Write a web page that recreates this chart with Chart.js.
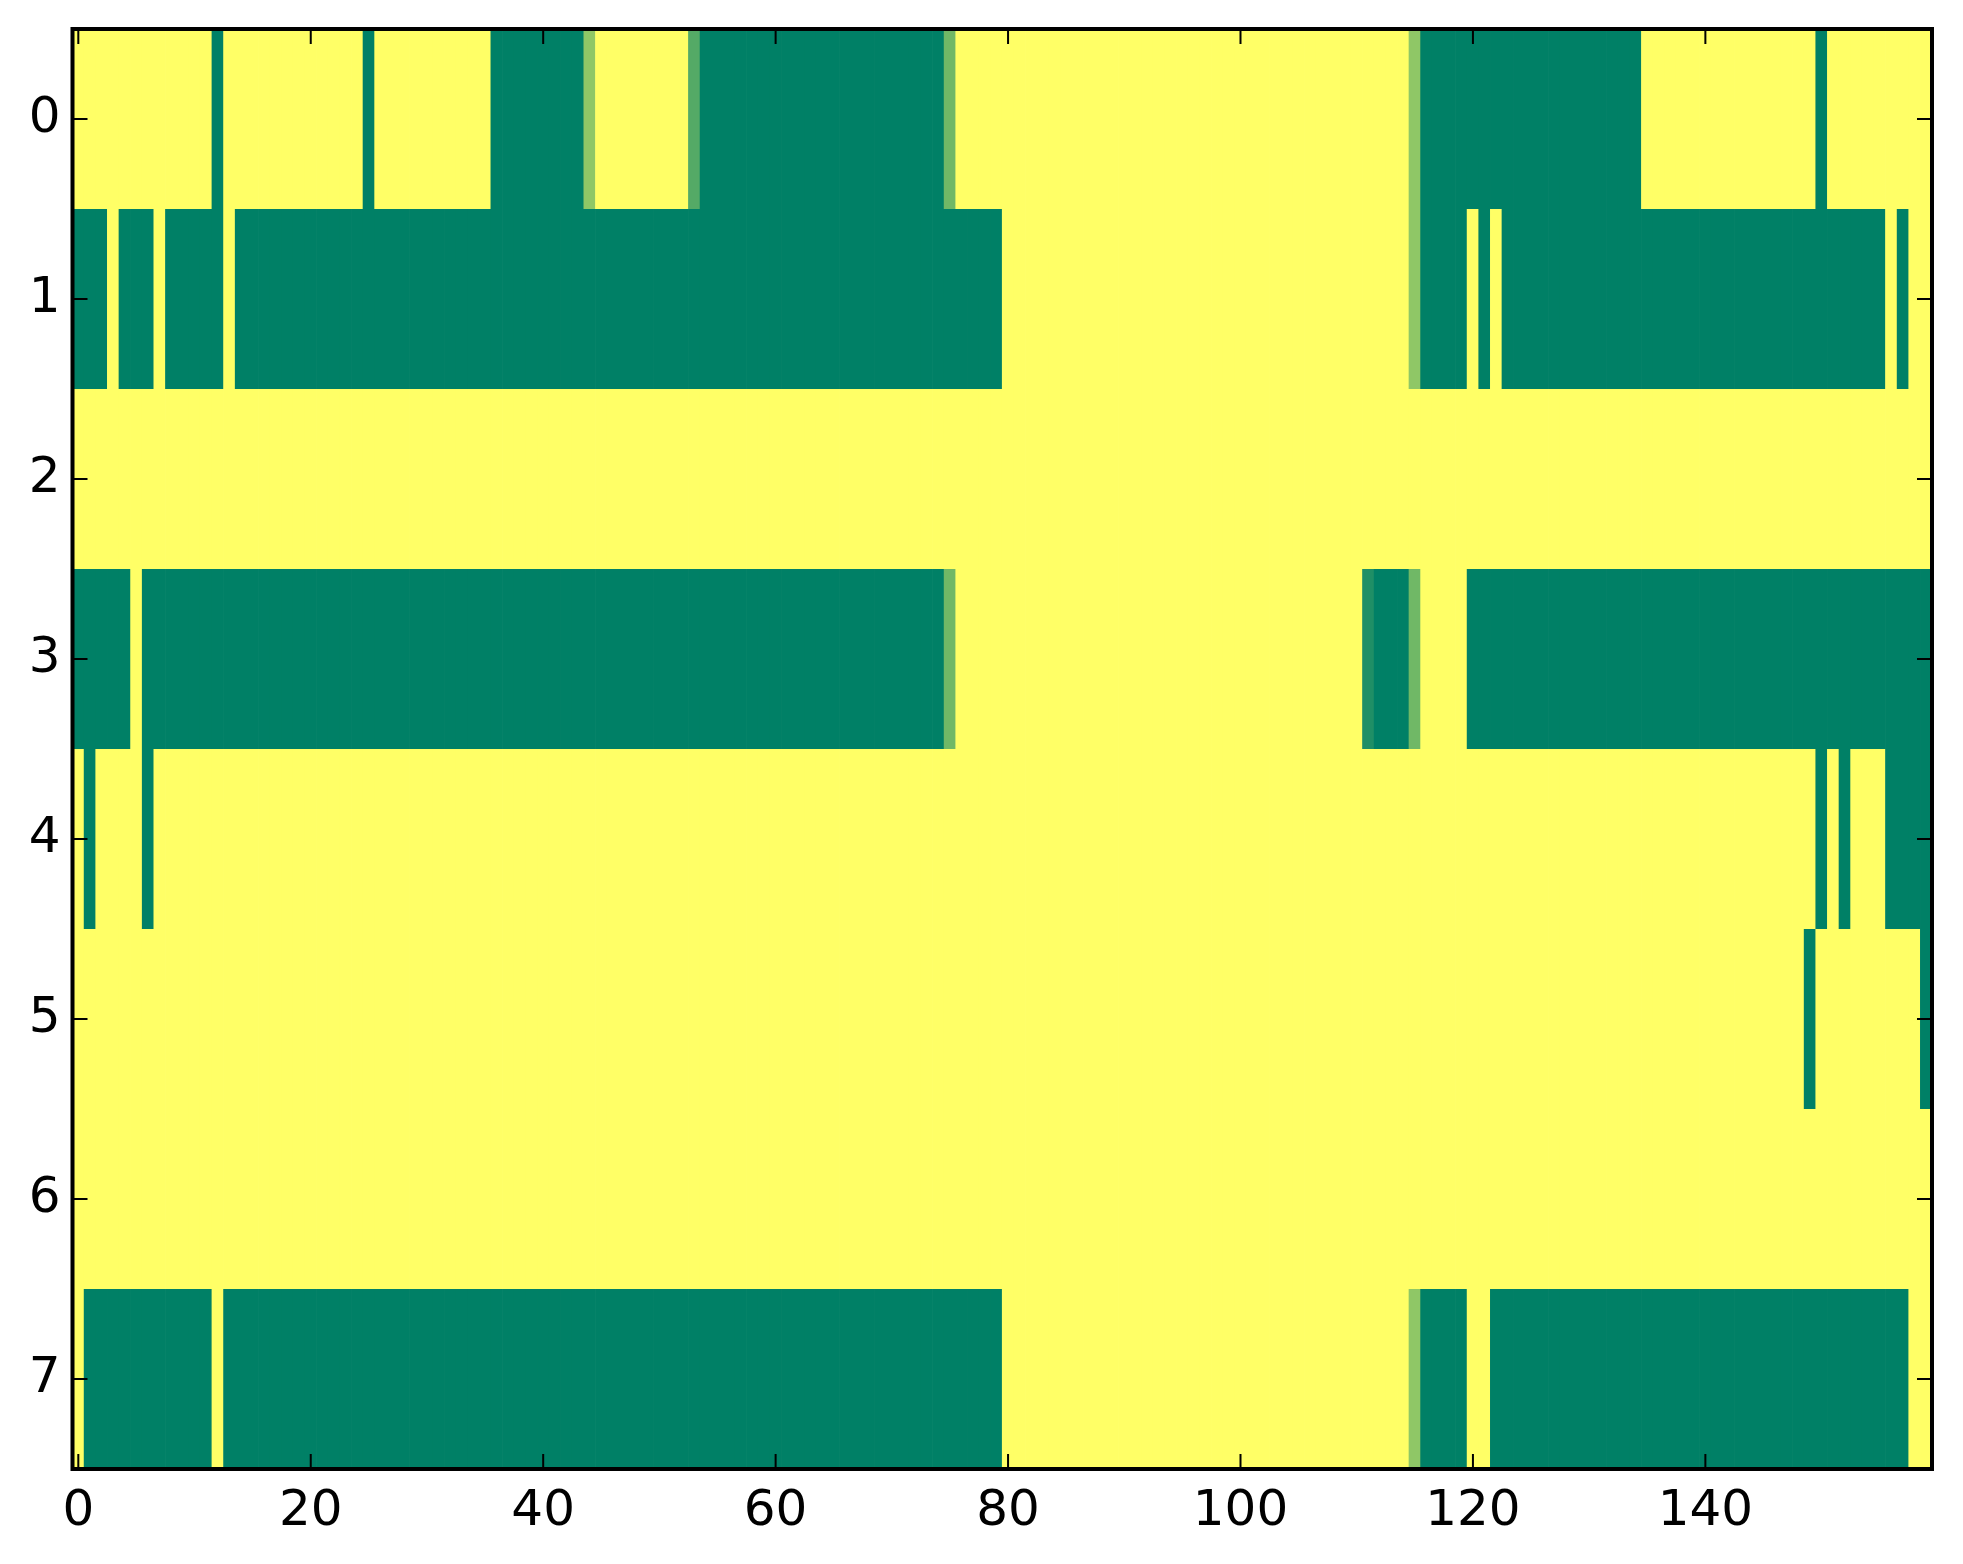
<!DOCTYPE html>
<html>
<head>
<meta charset="utf-8">
<script src="https://cdn.jsdelivr.net/npm/chart.js@4.4.1/dist/chart.umd.min.js"></script>
<style>
html,body{margin:0;padding:0;background:#fff;}
#wrap{width:1963px;height:1564px;position:relative;}
</style>
</head>
<body>
<div id="wrap"><canvas id="c" width="1963" height="1564"></canvas></div>
<script>
// ---- data ----
const rowLabels = ['0','1','2','3','4','5','6','7'];
const xTickLabels = [0,20,40,60,80,100,120,140];
const yTickLabels = [0,1,2,3,4,5,6,7];
const columns = Array.from({length:160},(_,i)=>String(i));

const row0 = [
1,1,1,1,1,1,1,1,1,1,1,1,0,1,1,1,1,1,1,1,
1,1,1,1,1,0,1,1,1,1,1,1,1,1,1,1,0,0,0,0,
0,0,0,0,0.56,1,1,1,1,1,1,1,1,0.33,0,0,0,0,0,0,
0,0,0,0,0,0,0,0,0,0,0,0,0,0,0,0.44,1,1,1,1,
1,1,1,1,1,1,1,1,1,1,1,1,1,1,1,1,1,1,1,1,
1,1,1,1,1,1,1,1,1,1,1,1,1,1,1,0.56,0,0,0,0,
0,0,0,0,0,0,0,0,0,0,0,0,0,0,0,1,1,1,1,1,
1,1,1,1,1,1,1,1,1,1,0,1,1,1,1,1,1,1,1,1];
const row1 = [
0,0,0,1,0,0,0,1,0,0,0,0,0,1,0,0,0,0,0,0,
0,0,0,0,0,0,0,0,0,0,0,0,0,0,0,0,0,0,0,0,
0,0,0,0,0,0,0,0,0,0,0,0,0,0,0,0,0,0,0,0,
0,0,0,0,0,0,0,0,0,0,0,0,0,0,0,0,0,0,0,0,
1,1,1,1,1,1,1,1,1,1,1,1,1,1,1,1,1,1,1,1,
1,1,1,1,1,1,1,1,1,1,1,1,1,1,1,0.56,0,0,0,0,
1,0,1,0,0,0,0,0,0,0,0,0,0,0,0,0,0,0,0,0,
0,0,0,0,0,0,0,0,0,0,0,0,0,0,0,0,1,0,1,1];
const row2 = [
1,1,1,1,1,1,1,1,1,1,1,1,1,1,1,1,1,1,1,1,
1,1,1,1,1,1,1,1,1,1,1,1,1,1,1,1,1,1,1,1,
1,1,1,1,1,1,1,1,1,1,1,1,1,1,1,1,1,1,1,1,
1,1,1,1,1,1,1,1,1,1,1,1,1,1,1,1,1,1,1,1,
1,1,1,1,1,1,1,1,1,1,1,1,1,1,1,1,1,1,1,1,
1,1,1,1,1,1,1,1,1,1,1,1,1,1,1,1,1,1,1,1,
1,1,1,1,1,1,1,1,1,1,1,1,1,1,1,1,1,1,1,1,
1,1,1,1,1,1,1,1,1,1,1,1,1,1,1,1,1,1,1,1];
const row3 = [
0,0,0,0,0,1,0,0,0,0,0,0,0,0,0,0,0,0,0,0,
0,0,0,0,0,0,0,0,0,0,0,0,0,0,0,0,0,0,0,0,
0,0,0,0,0,0,0,0,0,0,0,0,0,0,0,0,0,0,0,0,
0,0,0,0,0,0,0,0,0,0,0,0,0,0,0,0.44,1,1,1,1,
1,1,1,1,1,1,1,1,1,1,1,1,1,1,1,1,1,1,1,1,
1,1,1,1,1,1,1,1,1,1,1,0.12,0,0,0,0.44,1,1,1,1,
0,0,0,0,0,0,0,0,0,0,0,0,0,0,0,0,0,0,0,0,
0,0,0,0,0,0,0,0,0,0,0,0,0,0,0,0,0,0,0,0];
const row4 = [
1,0,1,1,1,1,0,1,1,1,1,1,1,1,1,1,1,1,1,1,
1,1,1,1,1,1,1,1,1,1,1,1,1,1,1,1,1,1,1,1,
1,1,1,1,1,1,1,1,1,1,1,1,1,1,1,1,1,1,1,1,
1,1,1,1,1,1,1,1,1,1,1,1,1,1,1,1,1,1,1,1,
1,1,1,1,1,1,1,1,1,1,1,1,1,1,1,1,1,1,1,1,
1,1,1,1,1,1,1,1,1,1,1,1,1,1,1,1,1,1,1,1,
1,1,1,1,1,1,1,1,1,1,1,1,1,1,1,1,1,1,1,1,
1,1,1,1,1,1,1,1,1,1,0,1,0,1,1,1,0,0,0,0];
const row5 = [
1,1,1,1,1,1,1,1,1,1,1,1,1,1,1,1,1,1,1,1,
1,1,1,1,1,1,1,1,1,1,1,1,1,1,1,1,1,1,1,1,
1,1,1,1,1,1,1,1,1,1,1,1,1,1,1,1,1,1,1,1,
1,1,1,1,1,1,1,1,1,1,1,1,1,1,1,1,1,1,1,1,
1,1,1,1,1,1,1,1,1,1,1,1,1,1,1,1,1,1,1,1,
1,1,1,1,1,1,1,1,1,1,1,1,1,1,1,1,1,1,1,1,
1,1,1,1,1,1,1,1,1,1,1,1,1,1,1,1,1,1,1,1,
1,1,1,1,1,1,1,1,1,0,1,1,1,1,1,1,1,1,1,0];
const row6 = [
1,1,1,1,1,1,1,1,1,1,1,1,1,1,1,1,1,1,1,1,
1,1,1,1,1,1,1,1,1,1,1,1,1,1,1,1,1,1,1,1,
1,1,1,1,1,1,1,1,1,1,1,1,1,1,1,1,1,1,1,1,
1,1,1,1,1,1,1,1,1,1,1,1,1,1,1,1,1,1,1,1,
1,1,1,1,1,1,1,1,1,1,1,1,1,1,1,1,1,1,1,1,
1,1,1,1,1,1,1,1,1,1,1,1,1,1,1,1,1,1,1,1,
1,1,1,1,1,1,1,1,1,1,1,1,1,1,1,1,1,1,1,1,
1,1,1,1,1,1,1,1,1,1,1,1,1,1,1,1,1,1,1,1];
const row7 = [
1,0,0,0,0,0,0,0,0,0,0,0,1,0,0,0,0,0,0,0,
0,0,0,0,0,0,0,0,0,0,0,0,0,0,0,0,0,0,0,0,
0,0,0,0,0,0,0,0,0,0,0,0,0,0,0,0,0,0,0,0,
0,0,0,0,0,0,0,0,0,0,0,0,0,0,0,0,0,0,0,0,
1,1,1,1,1,1,1,1,1,1,1,1,1,1,1,1,1,1,1,1,
1,1,1,1,1,1,1,1,1,1,1,1,1,1,1,0.56,0,0,0,0,
1,1,0,0,0,0,0,0,0,0,0,0,0,0,0,0,0,0,0,0,
0,0,0,0,0,0,0,0,0,0,0,0,0,0,0,0,0,0,1,1];

const rows = [row0,row1,row2,row3,row4,row5,row6,row7];

// matplotlib "summer" colormap
function summer(v){
  const r = Math.round(255*v);
  const g = Math.round(127.5 + 127.5*v);
  return `rgb(${r},${g},102)`;
}

const datasets = rows.map((vals, r) => ({
  label: rowLabels[r],
  data: vals.map(() => [r - 0.5, r + 0.5]),
  backgroundColor: vals.map(summer),
  borderWidth: 0,
  borderSkipped: false,
  grouped: false,
  barPercentage: 1.06,
  categoryPercentage: 1.0
}));

const FONT = {family: 'DejaVu Sans', size: 50};

const framePlugin = {
  id: 'frame',
  afterDraw(chart){
    const {ctx, chartArea: a, scales: {x, y}} = chart;
    ctx.save();
    ctx.strokeStyle = '#000';
    ctx.lineWidth = 2;
    ctx.beginPath();
    xTickLabels.forEach(v => {
      const px = x.getPixelForValue(v);
      ctx.moveTo(px, a.bottom); ctx.lineTo(px, a.bottom - 15);
      ctx.moveTo(px, a.top); ctx.lineTo(px, a.top + 15);
    });
    yTickLabels.forEach(v => {
      const py = y.getPixelForValue(v);
      ctx.moveTo(a.left, py); ctx.lineTo(a.left + 15, py);
      ctx.moveTo(a.right, py); ctx.lineTo(a.right - 15, py);
    });
    ctx.stroke();
    ctx.lineWidth = 4;
    ctx.strokeRect(a.left, a.top, a.right - a.left, a.bottom - a.top);
    ctx.restore();
  }
};

new Chart(document.getElementById('c'), {
  type: 'bar',
  data: { labels: columns, datasets },
  plugins: [framePlugin],
  options: {
    responsive: false,
    animation: false,
    devicePixelRatio: 1,
    layout: { padding: { left: 0, right: 31, top: 29, bottom: 0 } },
    plugins: { legend: { display: false }, tooltip: { enabled: false } },
    scales: {
      x: {
        type: 'category',
        offset: true,
        grid: { display: false, drawTicks: false },
        border: { display: false },
        ticks: {
          autoSkip: false,
          maxRotation: 0,
          minRotation: 0,
          padding: 13,
          color: '#000',
          font: FONT,
          callback: (val, idx) => xTickLabels.includes(idx) ? String(idx) : null
        },
        afterFit: s => { s.height = 95; s.paddingLeft = 0; s.paddingRight = 0; }
      },
      y: {
        type: 'linear',
        reverse: true,
        min: -0.5,
        max: 7.5,
        grid: { display: false, drawTicks: false },
        border: { display: false },
        afterBuildTicks: s => { s.ticks = yTickLabels.map(v => ({ value: v })); },
        ticks: {
          padding: 12,
          color: '#000',
          font: FONT,
          callback: v => String(v)
        },
        afterFit: s => { s.width = 72.5; s.paddingTop = 0; s.paddingBottom = 0; }
      }
    }
  }
});
</script>
</body>
</html>
